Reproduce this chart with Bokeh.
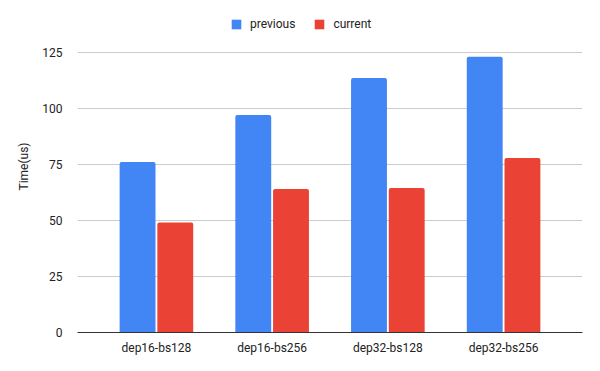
from bokeh.plotting import figure
from bokeh.models import FactorRange, Legend, LegendItem, ColumnDataSource, FixedTicker, Range1d
from bokeh.transform import dodge
from bokeh.embed import file_html
from bokeh.resources import INLINE

categories = ["dep16-bs128", "dep16-bs256", "dep32-bs128", "dep32-bs256"]
previous = [76, 97, 113.5, 122.9]
current = [49, 64, 64.4, 77.8]
y_ticks = [0, 25, 50, 75, 100, 125]
series_names = ["previous", "current"]
series_colors = ["#4285F4", "#EA4335"]

FONT = "Roboto"
TEXT_COLOR = "#222222"
Y_VIEW_TOP = 148  # view extends above the last tick to leave room for the legend

src = ColumnDataSource(dict(cat=categories, previous=previous, current=current))

p = figure(
    width=592, height=363,
    x_range=FactorRange(factors=categories, range_padding=0.091, range_padding_units="percent"),
    y_range=Range1d(0, Y_VIEW_TOP),
    output_backend="svg", toolbar_location=None,
    min_border_left=77, min_border_right=10, min_border_top=0, min_border_bottom=31,
)

r1 = p.vbar(x=dodge("cat", -0.163, range=p.x_range), top="previous", width=0.31,
            source=src, fill_color=series_colors[0], line_color=None,
            border_radius=(2, 2, 0, 0))
r2 = p.vbar(x=dodge("cat", 0.163, range=p.x_range), top="current", width=0.31,
            source=src, fill_color=series_colors[1], line_color=None,
            border_radius=(2, 2, 0, 0))

p.outline_line_color = None
p.xgrid.grid_line_color = None
p.ygrid.grid_line_color = "#cccccc"
p.ygrid.grid_line_width = 1

p.yaxis.ticker = FixedTicker(ticks=y_ticks)
p.yaxis.axis_line_color = None
p.yaxis.major_tick_line_color = None
p.yaxis.minor_tick_line_color = None
p.yaxis.major_tick_out = 0
p.yaxis.major_label_standoff = 15
p.yaxis.axis_label = "Time(us)"
p.yaxis.axis_label_standoff = 8
p.yaxis.axis_label_text_font_style = "normal"
p.yaxis.axis_label_text_font = FONT
p.yaxis.axis_label_text_font_size = "12px"
p.yaxis.axis_label_text_color = TEXT_COLOR

p.xaxis.axis_line_color = "#333333"
p.xaxis.axis_line_width = 1
p.xaxis.major_tick_line_color = None
p.xaxis.minor_tick_line_color = None
p.xaxis.major_tick_out = 0
p.xaxis.major_label_standoff = 8

for ax in (p.xaxis, p.yaxis):
    ax.major_label_text_font = FONT
    ax.major_label_text_font_size = "12px"
    ax.major_label_text_color = TEXT_COLOR

legend = Legend(
    items=[LegendItem(label=series_names[0], renderers=[r1]),
           LegendItem(label=series_names[1], renderers=[r2])],
    orientation="horizontal", location=(153, 301),
    padding=0, margin=0, spacing=18,
    glyph_width=12, glyph_height=12, label_height=12, label_standoff=8,
    label_text_font=FONT, label_text_font_size="12px", label_text_color=TEXT_COLOR,
    border_line_alpha=0, background_fill_alpha=0,
)
p.add_layout(legend, "center")

open("out.html", "w").write(file_html(p, INLINE))
